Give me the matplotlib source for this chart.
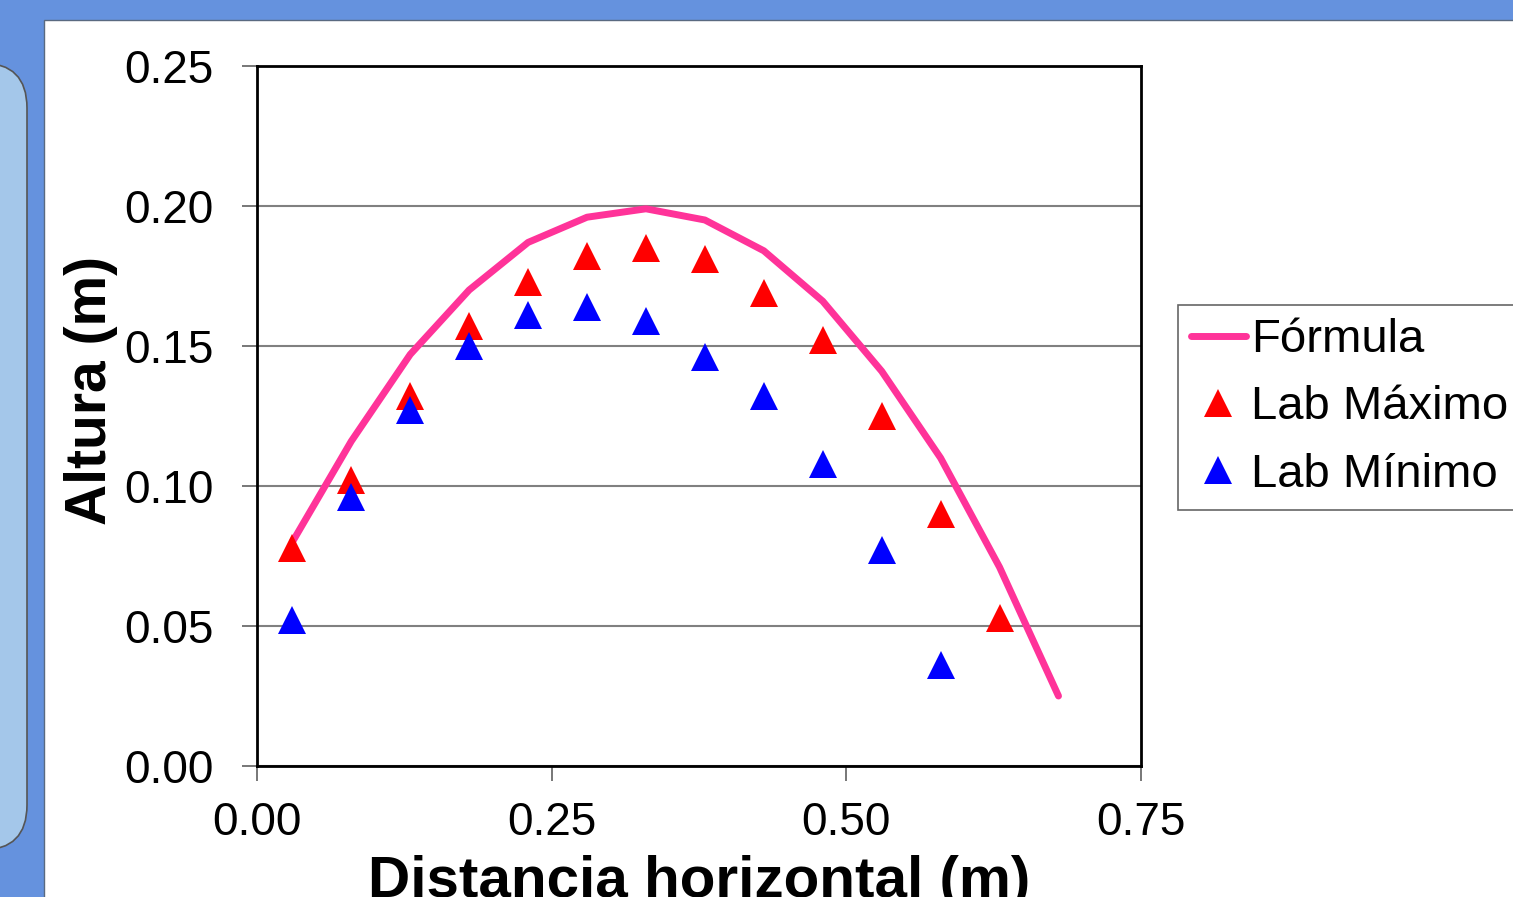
import matplotlib
matplotlib.use("Agg")
import matplotlib.pyplot as plt
from matplotlib.patches import Rectangle, FancyBboxPatch

plt.rcParams['font.family'] = ['Liberation Sans', 'DejaVu Sans']

# Data
x_formula = [0.03, 0.08, 0.13, 0.18, 0.23, 0.28, 0.33, 0.38, 0.43, 0.48, 0.53, 0.58, 0.63, 0.68]
y_formula = [0.080, 0.116, 0.147, 0.170, 0.187, 0.196, 0.199, 0.195, 0.184, 0.166, 0.141, 0.110, 0.071, 0.025]

x_lab = [0.03, 0.08, 0.13, 0.18, 0.23, 0.28, 0.33, 0.38, 0.43, 0.48, 0.53, 0.58, 0.63]
y_max = [0.078, 0.102, 0.132, 0.157, 0.173, 0.182, 0.185, 0.181, 0.169, 0.152, 0.125, 0.090, 0.053]

x_min = [0.03, 0.08, 0.13, 0.18, 0.23, 0.28, 0.33, 0.38, 0.43, 0.48, 0.53, 0.58]
y_min = [0.052, 0.096, 0.127, 0.150, 0.161, 0.164, 0.159, 0.146, 0.132, 0.108, 0.077, 0.036]

x_ticks = [0.00, 0.25, 0.50, 0.75]
y_ticks = [0.00, 0.05, 0.10, 0.15, 0.20, 0.25]

W, H = 1513, 897
fig = plt.figure(figsize=(W / 100, H / 100), dpi=100)
fig.patch.set_facecolor('#6592DE')

# background decoration axes in pixel coordinates
bg = fig.add_axes([0, 0, 1, 1], zorder=0)
bg.set_xlim(0, W)
bg.set_ylim(H, 0)
bg.axis('off')
bg.add_patch(Rectangle((44, 20), W - 44 + 5, H - 20 + 5, facecolor='white',
                       edgecolor='#5a6a80', linewidth=1.0))
bg.add_patch(FancyBboxPatch((-60, 63), 87, 787,
                            boxstyle="round,pad=0,rounding_size=45",
                            facecolor='#A4C7EA', edgecolor='#555555', linewidth=1.2))

ax = fig.add_axes([257 / W, (H - 766) / H, (1141 - 257) / W, (766 - 66) / H], zorder=2)
ax.set_facecolor('white')

ax.plot(x_formula, y_formula, color='#FF3399', linewidth=5.0, label='Fórmula',
        solid_capstyle='round', zorder=3)
ax.plot(x_lab, y_max, linestyle='none', marker='^', markersize=19.5, color='#FF0000',
        markeredgewidth=0, label='Lab Máximo', zorder=4)
ax.plot(x_min, y_min, linestyle='none', marker='^', markersize=19.5, color='#0000FF',
        markeredgewidth=0, label='Lab Mínimo', zorder=5)

ax.set_xlim(0, 0.75)
ax.set_ylim(0, 0.25)
ax.set_xticks(x_ticks)
ax.set_yticks(y_ticks)
ax.set_xticklabels([f"{v:.2f}" for v in x_ticks])
ax.set_yticklabels([f"{v:.2f}" for v in y_ticks])

ax.yaxis.grid(True, color='#808080', linewidth=1.5)
ax.set_axisbelow(True)
for s in ax.spines.values():
    s.set_color('black')
    s.set_linewidth(2.0)

ax.tick_params(axis='both', direction='out', length=11, width=1.2, color='#606060',
               labelsize=33, labelcolor='black')
ax.tick_params(axis='y', pad=20)
ax.tick_params(axis='x', pad=14.5)

ax.set_xlabel('Distancia horizontal (m)', fontsize=42, fontweight='bold')
ax.set_ylabel('Altura (m)', fontsize=41, fontweight='bold')
ax.xaxis.set_label_coords(0.5, -0.127)
ax.yaxis.set_label_coords(-0.1576, 0.537)

leg = fig.legend(loc='upper left', bbox_to_anchor=(1178 / W, (H - 305) / H),
                 bbox_transform=fig.transFigure, fontsize=34, frameon=True, fancybox=False,
                 edgecolor='#404040', handlelength=1.15, handletextpad=0.12,
                 labelspacing=0.49, borderpad=0.28, borderaxespad=0, markerscale=1.0)
leg.get_frame().set_linewidth(1.2)
leg.set_zorder(10)

fig.savefig('out.png', dpi=100, facecolor=fig.get_facecolor())
